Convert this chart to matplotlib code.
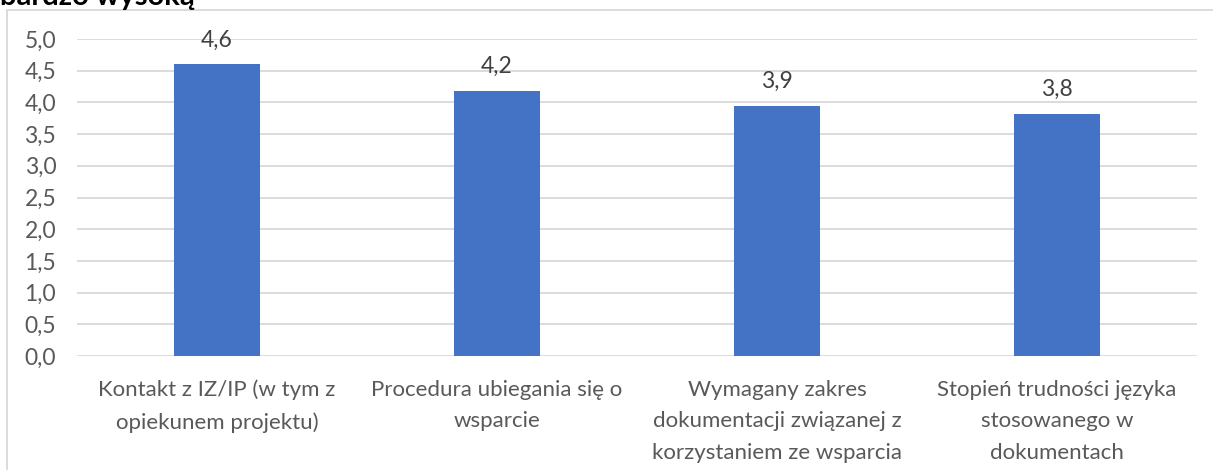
import matplotlib
matplotlib.use("Agg")
import matplotlib.pyplot as plt
from matplotlib.patches import Rectangle

categories = [
    "Kontakt z IZ/IP (w tym z\nopiekunem projektu)",
    "Procedura ubiegania się o\nwsparcie",
    "Wymagany zakres\ndokumentacji związanej z\nkorzystaniem ze wsparcia",
    "Stopień trudności języka\nstosowanego w\ndokumentach",
]
values = [4.6, 4.18, 3.94, 3.82]
yticks = [0.0, 0.5, 1.0, 1.5, 2.0, 2.5, 3.0, 3.5, 4.0, 4.5, 5.0]
title_fragment = "bardzo wysoką"

plt.rcParams['font.family'] = ['Lato', 'DejaVu Sans']

W, H = 1213, 470
fig = plt.figure(figsize=(W / 100, H / 100), dpi=100)

# outer chart frame
fig.patches.append(Rectangle((7 / W, -0.1), 1.2, (H - 10) / H + 0.1, transform=fig.transFigure,
                             fill=False, edgecolor='#d9d9d9', linewidth=1.3, zorder=0))

ax = fig.add_axes([77 / W, 1 - 356 / H, (1197 - 77) / W, (356 - 39) / H])
x = list(range(len(categories)))
bars = ax.bar(x, values, width=0.31, color='#4472C4', zorder=3)
ax.set_xlim(-0.5, len(categories) - 0.5)
ax.set_ylim(0, 5)
ax.set_yticks(yticks)
ax.set_yticklabels([f"{v:.1f}".replace('.', ',') for v in yticks])
ax.set_xticks(x)
ax.set_xticklabels(categories, linespacing=1.72)
ax.tick_params(axis='y', length=0, pad=15, labelsize=16.5, labelcolor='#595959')
ax.tick_params(axis='x', length=0, pad=17, labelsize=16, labelcolor='#595959')
ax.grid(axis='y', color='#d9d9d9', linewidth=1.3, zorder=0)
for s in ax.spines.values():
    s.set_visible(False)

for xi, v in zip(x, values):
    ax.annotate(f"{v:.1f}".replace('.', ','), (xi, v), xytext=(0, 10), textcoords='offset points',
                ha='center', va='bottom', fontsize=16.5, color='#404040')

fig.text(0 / W, 1 - 5 / H, title_fragment, ha='left', va='baseline', fontsize=21,
         fontweight='bold', color='black')

fig.savefig("out.png", dpi=100)
